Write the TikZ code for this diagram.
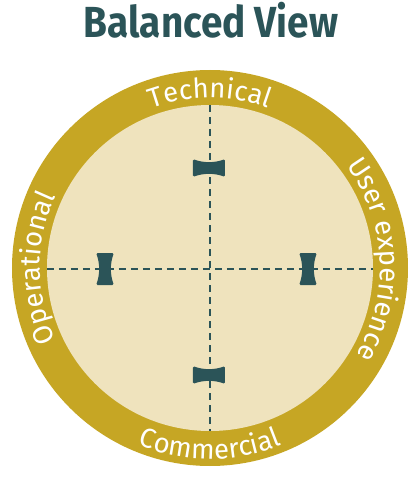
\documentclass[tikz,border=0pt]{standalone}
\usepackage{fontspec}
\setmainfont{Fira Sans}
\newfontfamily\titlefont[FakeStretch=0.89]{Fira Sans Bold}
\usetikzlibrary{decorations.text}
\definecolor{ringgold}{HTML}{C6A624}
\definecolor{innerbeige}{HTML}{EFE3BD}
\definecolor{darkteal}{HTML}{2B5458}
\newcommand{\ringfont}{\fontsize{27.5}{28}\selectfont\color{white}}
\tikzset{
  guide/.style={draw=darkteal, line width=2pt, dash pattern=on 7pt off 5pt},
  ringlabel/.style={decorate, decoration={text along path, text align=center, text={|\ringfont|#1}}},
  hslider/.pic={\fill[darkteal, rounded corners=1.5pt] (-16,9) .. controls (-6,5) and (6,5) .. (16,9) -- (16,-9) .. controls (6,-5) and (-6,-5) .. (-16,-9) -- cycle;},
  vslider/.pic={\fill[darkteal, rounded corners=1.5pt] (-9,16) .. controls (-5,6) and (-5,-6) .. (-9,-16) -- (9,-16) .. controls (5,-6) and (5,6) .. (9,16) -- cycle;}
}
\begin{document}
\begin{tikzpicture}[x=1pt,y=1pt]
\useasboundingbox (-210,-209) rectangle (210,268);
\fill[ringgold] (0,0) circle[radius=198];
\fill[innerbeige] (0,0) circle[radius=163];
\coordinate (top) at (0,163);
\coordinate (bottom) at (0,-163);
\coordinate (left) at (-163,-1);
\coordinate (right) at (163,-1);
\draw[guide] (top) -- (bottom);
\draw[guide] (left) -- (right);
\pic at (-1,100) {hslider};
\pic at (-1,-107) {hslider};
\pic at (-105,-1) {vslider};
\pic at (98,-1) {vslider};
\node[anchor=base, text=darkteal, font=\titlefont\fontsize{43.5}{44}\selectfont] (title) at (1,230) {Balanced View};
\path[ringlabel=Technical] (150:170) arc[start angle=150, end angle=30, radius=170];
\path[ringlabel=Commercial] (220:191) arc[start angle=220, end angle=320, radius=191];
\path[ringlabel=User experience] (60:170) arc[start angle=60, end angle=-54, radius=170];
\path[ringlabel=Operational] (240:170) arc[start angle=240, end angle=120, radius=170];
\end{tikzpicture}
\end{document}
